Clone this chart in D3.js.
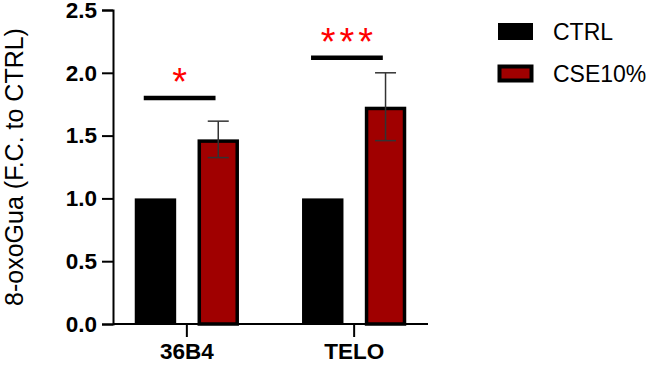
<!DOCTYPE html>
<html>
<head>
<meta charset="utf-8">
<script src="https://cdn.jsdelivr.net/npm/d3@7"></script>
<style>
  body { margin: 0; background: #fff; }
  svg { display: block; font-family: Arial, "Liberation Sans", sans-serif; }
</style>
</head>
<body>
<svg></svg>
<script>
/** Chart data */
const genes = ['36B4', 'TELO'];
const groups = ['CTRL', 'CSE10%'];
const ctrlValues = [1.0, 1.0];
const cseValues = [1.47, 1.73];
const cseErrors = [0.145, 0.27];
const sigLevels = [1.80, 2.12];
const sigLabels = ['*', '***'];
const yTicks = [0, 0.5, 1.0, 1.5, 2.0, 2.5];

let width = 656;
let height = 365;
let plot = { left: 113, right: 428, top: 10, bottom: 324 };

let colors = { 'CTRL': '#000000', 'CSE10%': '#a00000' };

let svg = d3.select('svg')
    .attr('width', width)
    .attr('height', height);

/** Scales */
let xScale = d3.scaleBand()
    .domain(genes)
    .range([plot.left, plot.right])
    .paddingInner(0.377)
    .paddingOuter(0.13);

let xSub = d3.scaleBand()
    .domain(groups)
    .range([0, xScale.bandwidth()])
    .paddingInner(0.34);

let yScale = d3.scaleLinear()
    .domain([0, 2.5])
    .range([plot.bottom, plot.top]);

/** Bars */
let rows = genes.map((g, i) => ({
    gene: g, i: i,
    vals: [
        { group: 'CTRL', value: ctrlValues[i] },
        { group: 'CSE10%', value: cseValues[i], err: cseErrors[i] }
    ]
}));

let geneG = svg.selectAll('g.gene')
    .data(rows)
    .enter()
    .append('g')
    .attr('class', 'gene')
    .attr('transform', d => `translate(${xScale(d.gene)},0)`);

const sw = 3.5; // outline width of CSE bars
geneG.selectAll('rect')
    .data(d => d.vals)
    .enter()
    .append('rect')
    .attr('x', d => xSub(d.group) + (d.group === 'CTRL' ? 0 : sw / 2))
    .attr('y', d => yScale(d.value) + (d.group === 'CTRL' ? 0 : sw / 2))
    .attr('width', d => xSub.bandwidth() - (d.group === 'CTRL' ? 0 : sw))
    .attr('height', d => yScale(0) - yScale(d.value) - (d.group === 'CTRL' ? 0 : sw / 2))
    .attr('fill', d => colors[d.group])
    .attr('stroke', '#000')
    .attr('stroke-width', d => d.group === 'CTRL' ? 0 : sw);

/** Error bars (CSE only) */
let errG = geneG.append('g')
    .attr('stroke', '#333')
    .attr('stroke-width', 1.5);

let cx = xSub('CSE10%') + xSub.bandwidth() / 2;
errG.append('line')
    .attr('x1', cx).attr('x2', cx)
    .attr('y1', d => yScale(cseValues[d.i] + cseErrors[d.i]))
    .attr('y2', d => yScale(cseValues[d.i] - cseErrors[d.i]));
[1, -1].forEach(s => {
    errG.append('line')
        .attr('x1', cx - 10.5).attr('x2', cx + 10.5)
        .attr('y1', d => yScale(cseValues[d.i] + s * cseErrors[d.i]))
        .attr('y2', d => yScale(cseValues[d.i] + s * cseErrors[d.i]));
});

/** Significance lines + stars */
geneG.append('line')
    .attr('x1', 9)
    .attr('x2', xSub('CSE10%') + 18)
    .attr('y1', d => yScale(sigLevels[d.i]))
    .attr('y2', d => yScale(sigLevels[d.i]))
    .attr('stroke', '#000')
    .attr('stroke-width', 4.5);

geneG.append('text')
    .attr('x', d => (9 + xSub('CSE10%') + 18) / 2 + (sigLabels[d.i].length > 1 ? 2 : 0))
    .attr('y', d => yScale(sigLevels[d.i]) - 3)
    .attr('text-anchor', 'middle')
    .attr('fill', '#ff0000')
    .style('font-size', '38px')
    .style('letter-spacing', d => sigLabels[d.i].length > 1 ? '4px' : '0px')
    .text(d => sigLabels[d.i]);

/** Axes */
let yAxis = d3.axisLeft(yScale)
    .tickValues(yTicks)
    .tickFormat(d3.format('.1f'))
    .tickSize(11)
    .tickPadding(5);

let xAxis = d3.axisBottom(xScale)
    .tickSize(13)
    .tickSizeOuter(0)
    .tickPadding(6);

let gy = svg.append('g')
    .attr('transform', `translate(${plot.left},0)`)
    .call(yAxis);

let gx = svg.append('g')
    .attr('transform', `translate(0,${plot.bottom})`)
    .call(xAxis);

[gx, gy].forEach(g => {
    g.selectAll('path, line').attr('stroke', '#000').attr('stroke-width', 2);
    g.selectAll('text')
        .attr('fill', '#000')
        .style('font-weight', 'bold')
        .style('font-family', 'Arial, "Liberation Sans", sans-serif');
});
gy.selectAll('text').style('font-size', '22.5px');
gx.selectAll('text').style('font-size', '22.5px');
gx.select('.domain').attr('d', `M${plot.left},0H${plot.right}`);

/** Y title */
svg.append('text')
    .attr('transform', `translate(23,${(plot.top + plot.bottom) / 2}) rotate(-90)`)
    .attr('text-anchor', 'middle')
    .style('font-size', '25px')
    .attr('fill', '#000')
    .text('8-oxoGua (F.C. to CTRL)');

/** Legend */
let legend = svg.selectAll('g.legend')
    .data(groups)
    .enter()
    .append('g')
    .attr('class', 'legend')
    .attr('transform', (d, i) => `translate(498,${23 + i * 42})`);

legend.append('rect')
    .attr('x', d => d === 'CTRL' ? 0 : 1.5)
    .attr('y', d => d === 'CTRL' ? 0 : 1.5)
    .attr('width', d => d === 'CTRL' ? 35 : 32)
    .attr('height', d => d === 'CTRL' ? 17 : 14)
    .attr('fill', d => colors[d])
    .attr('stroke', '#000')
    .attr('stroke-width', d => d === 'CTRL' ? 0 : 4);

legend.append('text')
    .attr('x', 55)
    .attr('y', 17)
    .style('font-size', '23px')
    .attr('fill', '#000')
    .text(d => d);
</script>
</body>
</html>
